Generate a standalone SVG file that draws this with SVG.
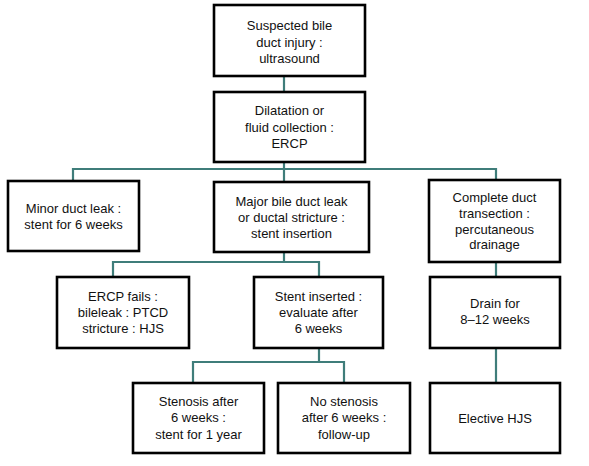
<svg xmlns="http://www.w3.org/2000/svg" width="589" height="466" viewBox="0 0 589 466">
<style>
.box{fill:#fff;stroke:#000;stroke-width:2.6}
.t{font-family:"Liberation Sans",Arial,sans-serif;font-size:13px;fill:#111;text-anchor:middle}
.c{fill:none;stroke:#3f7d7a;stroke-width:2.2}
</style>
<rect width="589" height="466" fill="#fff"/>
<g id="connectors">
<path class="c" d="M284,76V92"/>
<path class="c" d="M284,162V169M73,181V169H496V180M284,169V182"/>
<path class="c" d="M284,252V262M113,277V262H319V277"/>
<path class="c" d="M496,262V277"/>
<path class="c" d="M319,348V362M193,383V362H344V383"/>
<path class="c" d="M496,348V383"/>
</g>
<g id="n1"><rect class="box" x="214" y="5" width="151" height="71"/>
<text class="t" x="289.5" y="30">Suspected bile</text><text class="t" x="289.5" y="46.5">duct injury :</text><text class="t" x="289.5" y="63">ultrasound</text></g>
<g id="n2"><rect class="box" x="214" y="92" width="151" height="70"/>
<text class="t" x="289.5" y="115">Dilatation or</text><text class="t" x="289.5" y="131.5">fluid collection :</text><text class="t" x="289.5" y="148">ERCP</text></g>
<g id="n3"><rect class="box" x="8" y="181" width="131" height="70"/>
<text class="t" x="73.5" y="213.3">Minor duct leak :</text><text class="t" x="73.5" y="228.5">stent for 6 weeks</text></g>
<g id="n4"><rect class="box" x="214" y="182" width="155" height="70"/>
<text class="t" x="291.5" y="206">Major bile duct leak</text><text class="t" x="291.5" y="222">or ductal stricture :</text><text class="t" x="291.5" y="237.5">stent insertion</text></g>
<g id="n5"><rect class="box" x="429" y="180" width="131" height="82"/>
<text class="t" x="494.5" y="202.3">Complete duct</text><text class="t" x="494.5" y="218">transection :</text><text class="t" x="494.5" y="233.7">percutaneous</text><text class="t" x="494.5" y="249.3">drainage</text></g>
<g id="n6"><rect class="box" x="57" y="277" width="132" height="71"/>
<text class="t" x="123" y="300.7">ERCP fails :</text><text class="t" x="123" y="316.7">bileleak : PTCD</text><text class="t" x="123" y="332.7">stricture : HJS</text></g>
<g id="n7"><rect class="box" x="254" y="277" width="129" height="71"/>
<text class="t" x="318.5" y="300.7">Stent inserted :</text><text class="t" x="318.5" y="316.7">evaluate after</text><text class="t" x="318.5" y="332.5">6 weeks</text></g>
<g id="n8"><rect class="box" x="430" y="277" width="130" height="71"/>
<text class="t" x="495" y="308.3">Drain for</text><text class="t" x="495" y="324.3">8–12 weeks</text></g>
<g id="n9"><rect class="box" x="133" y="383" width="131" height="70"/>
<text class="t" x="198.5" y="405.7">Stenosis after</text><text class="t" x="198.5" y="422.3">6 weeks :</text><text class="t" x="198.5" y="439">stent for 1 year</text></g>
<g id="n10"><rect class="box" x="278" y="383" width="132" height="70"/>
<text class="t" x="344" y="405.7">No stenosis</text><text class="t" x="344" y="422.3">after 6 weeks :</text><text class="t" x="344" y="439">follow-up</text></g>
<g id="n11"><rect class="box" x="430" y="383" width="130" height="70"/>
<text class="t" x="495" y="422.7">Elective HJS</text></g>
</svg>
